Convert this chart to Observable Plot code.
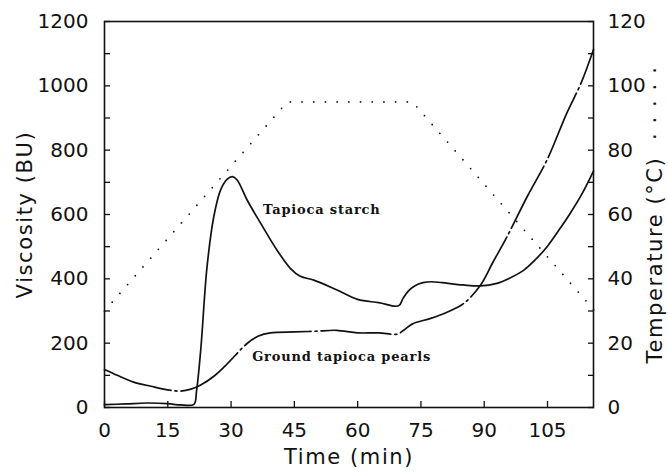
<!DOCTYPE html>
<html>
<head>
<meta charset="utf-8">
<script src="https://cdn.jsdelivr.net/npm/d3@7"></script>
<script src="https://cdn.jsdelivr.net/npm/@observablehq/plot@0.6"></script>
<style>
  html, body { margin: 0; padding: 0; background: #fff; }
</style>
</head>
<body>
<div id="chart"></div>
<script>
// Tapioca starch (solid line): time (min) and viscosity (BU)
const starchTime = [0, 5, 10, 15, 18, 21.2, 21.8, 22.8, 24.3, 25.9, 27.5, 29.1, 30.3, 31.4, 33.8, 37, 40.9, 44.1, 46.4, 49.6, 55, 60, 65, 69.7, 70.8, 72, 73.5, 75.5, 77.5, 80, 85, 89.1, 93, 96, 99.4, 102, 104.9, 108, 110.4, 113, 115.9];
const starchVisc = [9, 11, 14, 12, 8, 10, 50, 178, 437, 593, 676, 710, 718, 708, 645, 573, 489, 432, 408, 396, 366, 336, 326, 316, 340, 362, 378, 388, 391, 388, 381, 378, 386, 402, 427, 458, 500, 557, 604, 660, 735];

// Ground tapioca pearls (dash-dot line)
const pearlTime = [0, 3, 6.9, 11, 14.9, 18, 20.5, 22.7, 26, 29.1, 33.8, 36.5, 39.3, 45, 50, 55, 60, 65, 69.4, 70.9, 73, 77.3, 81.3, 85.2, 89.1, 92, 95.4, 100.2, 104.9, 109.6, 113, 115.9];
const pearlVisc = [118, 100, 79, 66, 55, 51, 57, 69, 98, 136, 199, 222, 232, 235, 237, 240, 232, 232, 228, 240, 260, 277, 297, 324, 380, 450, 531, 656, 770, 916, 1010, 1113];

// Temperature program (dotted line): time (min), temperature (°C)
const tempTime = [0, 43.3, 73, 116];
const tempC = [30, 95, 95, 30.3];

// Axis ticks and labels
const timeTicks = [0, 15, 30, 45, 60, 75, 90, 105];
const viscTicks = d3.range(0, 1201, 100);
const viscLabelStep = 200;
const tempPerVisc = 0.1; // right axis: 120 °C spans the same height as 1200 BU

const starch = starchTime.map((t, i) => ({t, v: starchVisc[i]}));
const pearls = pearlTime.map((t, i) => ({t, v: pearlVisc[i]}));
const temp = tempTime.map((t, i) => ({t, c: tempC[i]}));

const ink = "#111";
const sans = "DejaVu Sans, sans-serif";
const serif = "DejaVu Serif, serif";
const blank = () => "";

const chart = Plot.plot({
  width: 668,
  height: 472,
  marginLeft: 104,
  marginRight: 75,
  marginTop: 21,
  marginBottom: 65,
  x: {domain: [0, 115.9]},
  y: {domain: [0, 1200]},
  style: {fontFamily: sans, fontSize: "20px", color: ink, background: "#fff", overflow: "visible"},
  marks: [
    // inward tick marks
    Plot.axisX({ticks: timeTicks, tickSize: 6, dy: -6, tickFormat: blank, label: null, strokeWidth: 1.3}),
    Plot.axisY({anchor: "left", ticks: viscTicks, tickSize: 6, dx: 6, tickFormat: blank, label: null, strokeWidth: 1.3}),
    Plot.axisY({anchor: "right", ticks: viscTicks, tickSize: 6, dx: -6, tickFormat: blank, label: null, strokeWidth: 1.3}),
    // tick labels
    Plot.axisX({ticks: timeTicks, tickSize: 0, tickPadding: 15, tickFormat: d => String(d), label: null, fontSize: 20}),
    Plot.axisY({anchor: "left", ticks: viscTicks.filter(d => d % viscLabelStep === 0), tickSize: 0, tickPadding: 16, tickFormat: d => String(d), label: null, fontSize: 20}),
    Plot.axisY({anchor: "right", ticks: viscTicks.filter(d => d % viscLabelStep === 0), tickSize: 0, tickPadding: 14, tickFormat: d => String(Math.round(d * tempPerVisc)), label: null, fontSize: 20}),
    Plot.frame({stroke: ink, strokeWidth: 1.6}),
    Plot.line(temp, {x: "t", y: d => d.c / tempPerVisc, stroke: ink, strokeWidth: 1.8, strokeDasharray: "0,11.7", strokeLinecap: "round"}),
    Plot.line(starch, {x: "t", y: "v", curve: "catmull-rom", stroke: ink, strokeWidth: 1.7}),
    Plot.line(pearls, {x: "t", y: "v", curve: "catmull-rom", stroke: ink, strokeWidth: 1.7, strokeDasharray: "70,4,2,4"}),
    Plot.text(["Tapioca starch"], {x: 51.5, y: 614, text: d => d, fontFamily: serif, fontWeight: "bold", fontSize: 13, fill: ink}),
    Plot.text(["Ground tapioca pearls"], {x: 56.2, y: 159, text: d => d, fontFamily: serif, fontWeight: "bold", fontSize: 13, fill: ink}),
    Plot.text(["Time (min)"], {frameAnchor: "bottom", dy: 50, textAnchor: "middle", lineAnchor: "middle", text: d => d, fontSize: 21, fill: ink}),
    Plot.text(["Viscosity (BU)"], {frameAnchor: "left", dx: -79, rotate: -90, textAnchor: "middle", lineAnchor: "middle", text: d => d, fontSize: 21, fill: ink}),
    Plot.text(["Temperature (°C)  · · · · ·"], {frameAnchor: "right", dx: 62, rotate: -90, textAnchor: "middle", lineAnchor: "middle", text: d => d, fontSize: 21, fill: ink})
  ]
});

document.getElementById("chart").appendChild(chart);
document.querySelectorAll("#chart svg text").forEach(t => {
  const s = t.textContent;
  if (s === "Time (min)" || s === "Viscosity (BU)" || s.startsWith("Temperature")) t.setAttribute("letter-spacing", "1.6");
  if (s === "Tapioca starch" || s === "Ground tapioca pearls") t.setAttribute("letter-spacing", "0.8");
});
</script>
</body>
</html>
